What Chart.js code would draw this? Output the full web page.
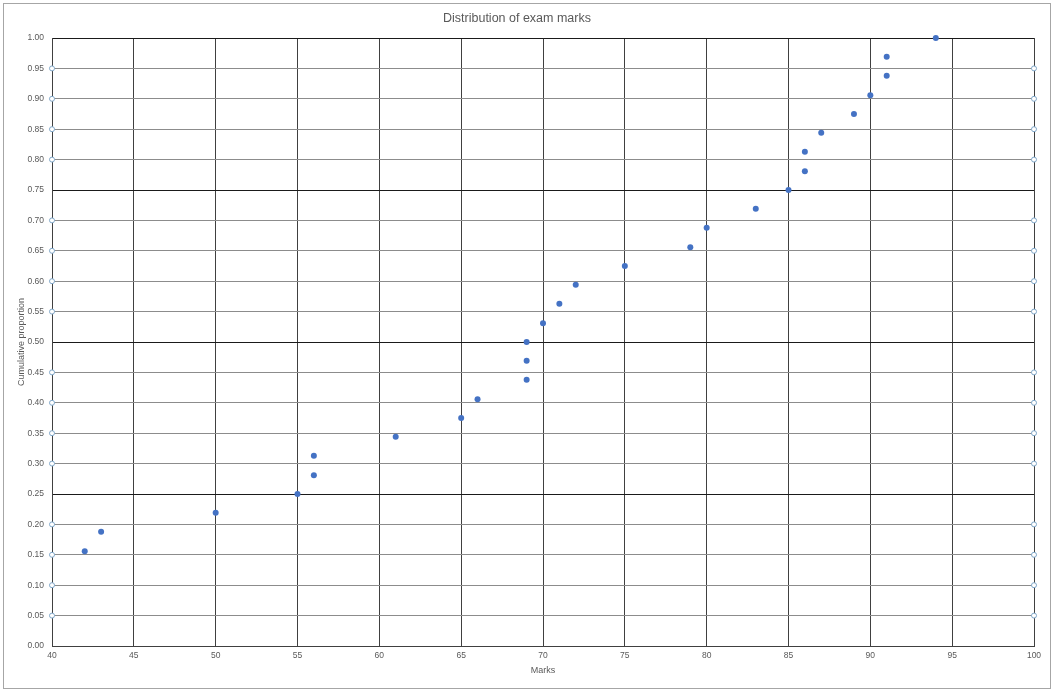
<!DOCTYPE html>
<html lang="en">
<head>
  <meta charset="UTF-8" />
  <title>Distribution of exam marks</title>
  <script src="https://cdn.jsdelivr.net/npm/chart.js"></script>
  <style>
    body {
      margin: 0;
      background: #ffffff;
      overflow: hidden;
    }
    canvas {
      display: block;
    }
  </style>
</head>
<body>
  <canvas id="myChart" width="1055" height="691"></canvas>

  <script>
    // marks (sorted) and cumulative proportion of the 32 students
    const marks = [42, 43, 50, 55, 56, 56, 61, 65, 66, 69, 69, 69, 70, 71, 72, 75,
                   79, 80, 83, 85, 86, 86, 87, 89, 90, 91, 91, 94];
    const proportion = [0.156, 0.188, 0.219, 0.25, 0.281, 0.313, 0.344, 0.375, 0.406, 0.438,
                        0.469, 0.5, 0.531, 0.563, 0.594, 0.625, 0.656, 0.688, 0.719, 0.75,
                        0.781, 0.813, 0.844, 0.875, 0.906, 0.938, 0.969, 1.0];

    // minor gridlines that carry the little selection handles at both ends
    const minorLines = [0.05, 0.10, 0.15, 0.20, 0.30, 0.35, 0.40, 0.45,
                        0.55, 0.60, 0.65, 0.70, 0.80, 0.85, 0.90, 0.95];
    const handleEnds = [40, 100];

    const points = marks.map((m, i) => ({ x: m, y: proportion[i] }));
    const handles = [];
    handleEnds.forEach(x => minorLines.forEach(y => handles.push({ x: x, y: y })));

    const txt = "#595959";
    const fam = "'Liberation Sans', Arial, sans-serif";

    // grey frame round the whole chart
    const framePlugin = {
      id: "frame",
      beforeDraw: (chart) => {
        const c = chart.ctx;
        c.save();
        c.fillStyle = "#ffffff";
        c.fillRect(0, 0, chart.width, chart.height);
        c.strokeStyle = "#a6a6a6";
        c.lineWidth = 1;
        c.strokeRect(3.5, 3.5, 1047, 685);
        c.restore();
      }
    };

    new Chart(document.getElementById("myChart"), {
      type: "scatter",
      data: {
        datasets: [
          {
            label: "Marks",
            data: points,
            backgroundColor: "#4472c4",
            borderColor: "#4472c4",
            borderWidth: 0,
            pointRadius: 3,
            clip: false
          },
          {
            label: "handles",
            data: handles,
            backgroundColor: "#ffffff",
            borderColor: "#7fa7c9",
            borderWidth: 1,
            pointRadius: 2.5,
            clip: false
          }
        ]
      },
      options: {
        responsive: false,
        animation: false,
        devicePixelRatio: 1,
        layout: { padding: { left: 0, right: 21, top: 0, bottom: 0 } },
        plugins: {
          legend: { display: false },
          tooltip: { enabled: false },
          title: {
            display: true,
            text: "Distribution of exam marks",
            color: txt,
            font: { family: fam, size: 12.5, weight: "normal", lineHeight: 1.2 },
            padding: { top: 11.5, bottom: 11.5 }
          }
        },
        scales: {
          x: {
            type: "linear",
            min: 40,
            max: 100,
            ticks: {
              stepSize: 5,
              color: txt,
              padding: 5,
              font: { family: fam, size: 8.5 }
            },
            grid: { color: "#404040", drawTicks: false },
            border: { color: "#404040" },
            title: {
              display: true,
              text: "Marks",
              color: txt,
              font: { family: fam, size: 9, lineHeight: 1.2 },
              padding: { top: 0, bottom: 14.6 }
            },
            afterFit: (scale) => { scale.height = 45; }
          },
          y: {
            min: 0,
            max: 1,
            ticks: {
              stepSize: 0.05,
              color: txt,
              padding: 8,
              font: { family: fam, size: 8.5 },
              callback: (v) => v.toFixed(2)
            },
            grid: {
              drawTicks: false,
              color: (ctx) => {
                const v = Math.round(ctx.tick.value * 100);
                return v % 25 === 0 ? "#1a1a1a" : "#8c8c8c";
              }
            },
            border: { color: "#404040" },
            title: {
              display: true,
              text: "Cumulative proportion",
              color: txt,
              font: { family: fam, size: 9, lineHeight: 1.2 },
              padding: { top: 16.6, bottom: 0 }
            },
            afterFit: (scale) => { scale.width = 52; }
          }
        }
      },
      plugins: [framePlugin]
    });
  </script>
</body>
</html>
